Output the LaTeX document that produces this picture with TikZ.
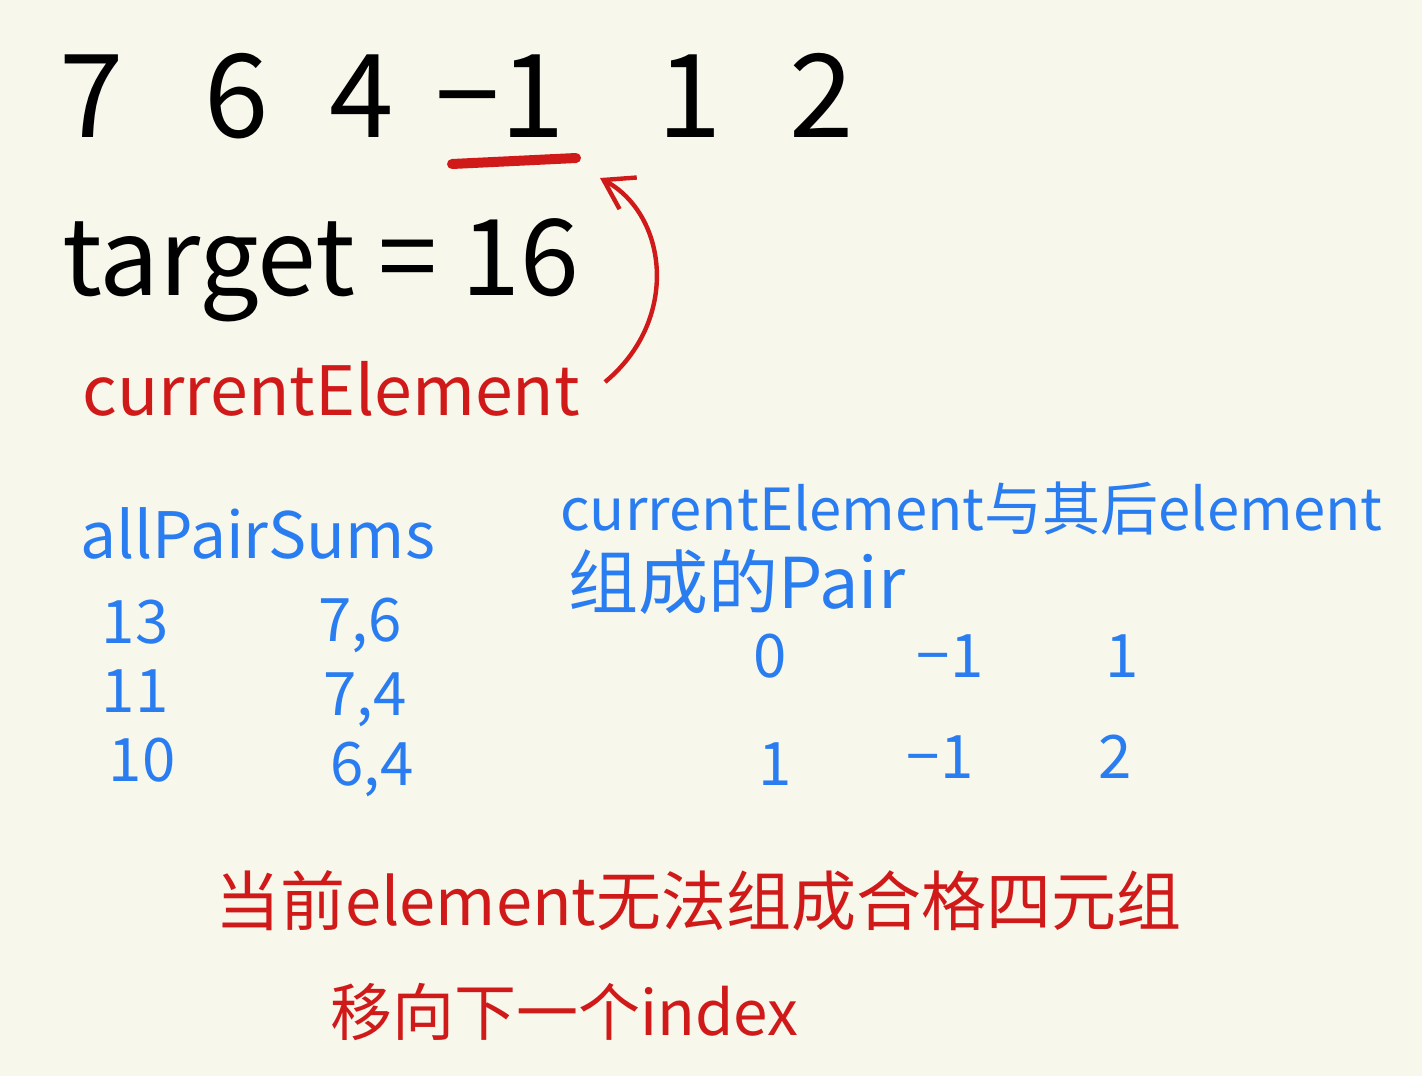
\documentclass[tikz,border=0pt]{standalone}
\usepackage{fontspec}
\setmainfont{Noto Sans CJK SC}
\usetikzlibrary{arrows.meta,positioning}
\definecolor{paper}{HTML}{F7F7EB}
\definecolor{inkred}{HTML}{D01A1A}
\definecolor{inkblue}{HTML}{2A7DF0}

\begin{document}
\begin{tikzpicture}[x=0.5pt,y=-0.5pt,
    num/.style={anchor=base, font=\fontsize{58}{60}\selectfont, text=black, inner sep=0pt},
    lbl/.style={anchor=base west, inner sep=0pt},
    cell/.style={anchor=base, font=\fontsize{30}{32}\selectfont, text=inkblue, inner sep=0pt},
    arr/.style={-{Straight Barb[length=14pt,width=18pt]}, inkred, line width=2.2pt}
]
\fill[paper] (0,0) rectangle (1422,1076);
\useasboundingbox (0,0) rectangle (1422,1076);

% input array
\node[num] (n7) at (92,137) {7};
\node[num] (n6) at (237,137) {6};
\node[num] (n4) at (362,137) {4};
\node[num] (nm1) at (500,137) {−1};
\node[num] (n1) at (690,137) {1};
\node[num] (n2) at (822,137) {2};
\draw[inkred, line width=5pt, line cap=round] (452,164) -- (576,158);
\coordinate (cur) at (600,178);

\node[lbl, font=\fontsize{53}{55}\selectfont] (target) at (62,295) {target = 16};
\node[lbl, font=\fontsize{34}{36}\selectfont, text=inkred] (curelem) at (82,415) {currentElement};
\coordinate (tail) at (605,382);
\draw[arr] (tail) .. controls (680,320) and (668,215) .. (cur);

% all pair sums
\node[lbl, font=\fontsize{32}{34}\selectfont, text=inkblue] (sums) at (80,558) {allPairSums};
\node[cell] (s13) at (135,643) {13};
\node[cell] (p76) at (360,641) {7,6};
\node[cell] (s11) at (135,712) {11};
\node[cell] (p74) at (365,715) {7,4};
\node[cell] (s10) at (142,781) {10};
\node[cell] (p64) at (372,785) {6,4};

% pairs with current element
\node[lbl, font=\fontsize{29}{31}\selectfont, text=inkblue] (pairhd) at (560,530) {currentElement与其后element};
\node[lbl, font=\fontsize{35}{37}\selectfont, text=inkblue] (pairhd2) at (568,608) {组成的Pair};
\node[cell] (a0) at (770,677) {0};
\node[cell] (am1) at (950,677) {−1};
\node[cell] (a1) at (1122,677) {1};
\node[cell] (b1) at (775,785) {1};
\node[cell] (bm1) at (940,778) {−1};
\node[cell] (b2) at (1115,778) {2};

% conclusion
\node[lbl, font=\fontsize{32.5}{35}\selectfont, text=inkred] (note1) at (215,925) {当前element无法组成合格四元组};
\node[lbl, font=\fontsize{31}{33}\selectfont, text=inkred] (note2) at (330,1035) {移向下一个index};
\end{tikzpicture}
\end{document}
